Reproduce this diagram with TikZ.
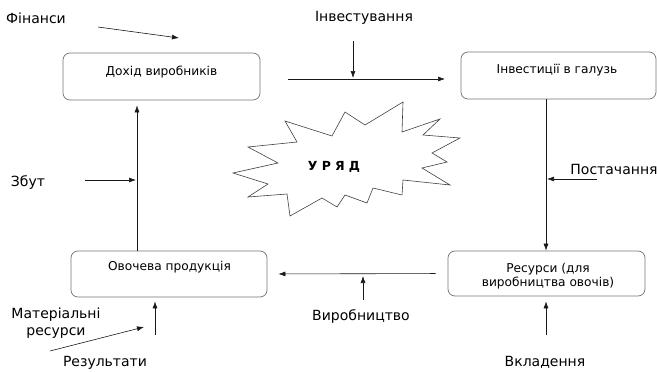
\documentclass[tikz,border=0pt]{standalone}
\usepackage{fontspec}
\setmainfont{DejaVu Sans}
\usetikzlibrary{arrows.meta}
\begin{document}
\begin{tikzpicture}[x=1pt,y=-1pt,
  box/.style={draw=black!55,line width=0.7pt,rounded corners=7pt,inner sep=0pt},
  boxtext/.style={font=\fontsize{12.2}{14.5}\selectfont,inner sep=0pt,align=center},
  lbl/.style={font=\fontsize{14}{17}\selectfont,inner sep=0pt,align=center},
  arr/.style={draw=black!90,line width=0.6pt,-{Latex[length=7pt,width=5pt]}}]
\useasboundingbox (0,0) rectangle (657,372);
% boxes
\node[box,minimum width=197pt,minimum height=47pt] (b1) at (161.5,76.5) {};
\node[box,minimum width=195pt,minimum height=47pt] (b2) at (558.5,75.5) {};
\node[box,minimum width=196pt,minimum height=46pt] (b3) at (169,274) {};
\node[box,minimum width=197pt,minimum height=45pt] (b4) at (546.5,273.5) {};
\node[boxtext] (t1) at (161.5,72) {Дохід виробників};
\node[boxtext] (t2) at (557,70) {Інвестиції в галузь};
\node[boxtext] (t3) at (169.5,267) {Овочева продукція};
\node[boxtext] (t4) at (548,276) {Ресурси (для\\виробництва овочів)};
% star
\draw[draw=black!75,line width=0.6pt] (285,121) -- (332,136) -- (345,112) -- (365,125) -- (403,102) -- (402,132) -- (440,119) -- (423,135) -- (460,138) -- (432,153) -- (447,162) -- (422,168) -- (450,185) -- (403,180) -- (402,195) -- (373,188) -- (367,203) -- (345,195) -- (337,207) -- (322,198) -- (290,216) -- (287,194) -- (248,197) -- (268,184) -- (233,173) -- (278,163) -- (248,147) -- (297,142) -- cycle;
\node[font=\fontsize{12.5}{14}\selectfont\bfseries,inner sep=0pt] (gov) at (334,167) {У\,\,Р\,\,Я\,\,Д};
% labels
\node[lbl] (fin) at (36,18) {Фінанси};
\node[lbl] (inv) at (364,18) {Інвестування};
\node[lbl] (zbut) at (28,183) {Збут};
\node[lbl] (post) at (614,169) {Постачання};
\node[lbl] (vyr) at (361,317) {Виробництво};
\node[lbl] (mat) at (56,323) {Матеріальні\\ресурси};
\node[lbl] (rez) at (105,363) {Результати};
\node[lbl] (vkl) at (545,362) {Вкладення};
% coordinates
\coordinate (xa) at (137,0);
\coordinate (xb) at (546,0);
\coordinate (xc) at (155,0);
\coordinate (hline) at (0,79);
\coordinate (fin1) at (98,27);
\coordinate (fin2) at (179,38);
\coordinate (inv1) at (353,41);
\coordinate (inv2) at (353,78);
\coordinate (zb1) at (85,180);
\coordinate (zb2) at (136,180);
\coordinate (po1) at (597,179);
\coordinate (po2) at (547,179);
\coordinate (vy1) at (363,300);
\coordinate (vy2) at (363,276);
\coordinate (ma1) at (50,351);
\coordinate (ma2) at (144,327);
\coordinate (re1) at (155,335);
\coordinate (vk1) at (546,335);
% connectors
\draw[arr] (b1.east |- hline) ++(28,0) coordinate (h1) -- (445,79) coordinate (h2);
\draw[arr] (inv1) -- (inv2);
\draw[arr] (fin1) -- (fin2);
\draw[arr,shorten >=5pt] (xa |- b3.north) -- (xa |- b1.south);
\draw[arr] (xb |- b2.south) -- (xb |- b4.north);
\draw[arr,shorten <=12pt,shorten >=11pt] (b4.west) -- (b3.east);
\draw[arr] (zb1) -- (zb2);
\draw[arr] (po1) -- (po2);
\draw[arr] (vy1) -- (vy2);
\draw[arr] (ma1) -- (ma2);
\draw[arr,shorten >=4pt] (re1) -- (xc |- b3.south);
\draw[arr,shorten >=5pt] (vk1) -- (xb |- b4.south);
\end{tikzpicture}
\end{document}
